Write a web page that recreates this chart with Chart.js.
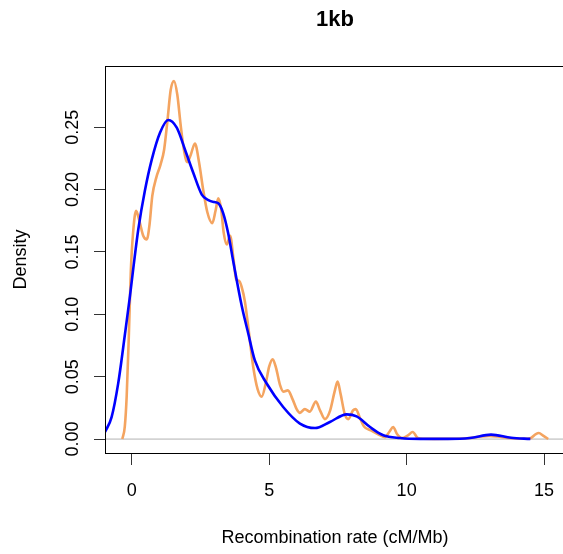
<!DOCTYPE html>
<html>
<head>
<meta charset="utf-8">
<script src="https://cdn.jsdelivr.net/npm/chart.js@4"></script>
<style>
  html, body { margin: 0; padding: 0; background: #fff; overflow: hidden; }
  #wrap { width: 563px; height: 554px; overflow: hidden; }
</style>
</head>
<body>
<div id="wrap"><canvas id="densityChart" width="570" height="554"></canvas></div>
<script>
// narrow-bandwidth density (orange)
const orangeX = [-0.34, -0.25, -0.18, -0.10, -0.03, 0.05, 0.16, 0.28, 0.42, 0.55, 0.65, 0.75, 0.90, 1.05, 1.18, 1.30, 1.42, 1.54, 1.66, 1.78, 1.90, 2.02, 2.15, 2.30, 2.45, 2.60, 2.75, 2.93, 3.05, 3.15, 3.25, 3.35, 3.46, 3.58, 3.70, 3.80, 3.90, 4.00, 4.12, 4.25, 4.42, 4.58, 4.73, 4.88, 5.00, 5.13, 5.25, 5.40, 5.52, 5.68, 5.85, 6.00, 6.12, 6.30, 6.48, 6.70, 6.85, 7.03, 7.22, 7.38, 7.49, 7.60, 7.75, 7.88, 8.05, 8.15, 8.30, 8.45, 8.70, 8.95, 9.21, 9.38, 9.51, 9.65, 9.82, 10.05, 10.22, 10.40, 10.60, 11.00, 11.80, 12.30, 12.70, 13.00, 13.30, 13.70, 14.20, 14.50, 14.70, 14.81, 14.95, 15.15];
const orangeY = [0, 0.010, 0.035, 0.085, 0.135, 0.165, 0.183, 0.175, 0.163, 0.160, 0.172, 0.195, 0.210, 0.220, 0.232, 0.255, 0.280, 0.287, 0.276, 0.252, 0.232, 0.222, 0.228, 0.237, 0.222, 0.200, 0.182, 0.173, 0.183, 0.193, 0.185, 0.165, 0.156, 0.163, 0.145, 0.128, 0.127, 0.122, 0.110, 0.088, 0.058, 0.040, 0.034, 0.045, 0.058, 0.064, 0.057, 0.043, 0.038, 0.039, 0.032, 0.024, 0.021, 0.024, 0.022, 0.030, 0.023, 0.016, 0.023, 0.038, 0.046, 0.036, 0.020, 0.016, 0.023, 0.024, 0.017, 0.010, 0.007, 0.004, 0.0015, 0.006, 0.0096, 0.004, 0.0008, 0.003, 0.0056, 0.001, 0.0002, 0.0001, 0.0002, 0.0008, 0.002, 0.0025, 0.002, 0.0008, 0.0002, 0.0007, 0.0040, 0.0048, 0.003, 0];

// wide-bandwidth density (blue)
const blueX = [-0.97, -0.73, -0.49, -0.24, -0.06, 0.06, 0.24, 0.48, 0.73, 1.03, 1.33, 1.64, 1.94, 2.24, 2.55, 2.79, 3.00, 3.15, 3.33, 3.51, 3.69, 4.00, 4.24, 4.48, 4.91, 5.51, 6.12, 6.67, 7.21, 7.82, 8.18, 8.67, 9.15, 9.76, 10.5, 11.5, 12.3, 13.07, 13.8, 14.5];
const blueY = [0.0056, 0.0176, 0.0446, 0.0848, 0.115, 0.137, 0.168, 0.199, 0.224, 0.2456, 0.2558, 0.2496, 0.232, 0.2135, 0.196, 0.1916, 0.190, 0.189, 0.181, 0.165, 0.143, 0.107, 0.0846, 0.063, 0.0445, 0.0257, 0.0124, 0.0088, 0.0137, 0.0198, 0.0182, 0.0096, 0.003, 0.0008, 0.0001, 0.0001, 0.0008, 0.0035, 0.001, 0.0001];

const xRange = [-0.97, 15.76];
const yRange = [-0.0112, 0.2991];
const xTicks = [0, 5, 10, 15];
const yTicks = [0, 0.05, 0.10, 0.15, 0.20, 0.25];

const FONT = "'Liberation Sans', Arial, Helvetica, sans-serif";

const toPoints = (xs, ys) => xs.map((x, i) => ({ x: x, y: ys[i] }));

const rDecor = {
    id: 'rDecor',
    afterDatasetsDraw(chart) {
        const { ctx, chartArea: a } = chart;
        ctx.save();
        ctx.strokeStyle = '#000';
        ctx.lineWidth = 1;
        ctx.strokeRect(Math.round(a.left) + 0.5, Math.round(a.top) + 0.5,
            Math.round(a.right - a.left), Math.round(a.bottom - a.top));
        ctx.restore();
    },
    afterDraw(chart) {
        const { ctx, chartArea: a } = chart;
        const ys = chart.scales.y;
        ctx.save();
        ctx.fillStyle = '#000';
        ctx.font = 'bold 22px ' + FONT;
        ctx.textAlign = 'center';
        ctx.textBaseline = 'alphabetic';
        ctx.fillText('1kb', (a.left + a.right) / 2, 26);

        ctx.font = '18px ' + FONT;
        yTicks.forEach(v => {
            const py = ys.getPixelForValue(v);
            ctx.save();
            ctx.translate(78, py);
            ctx.rotate(-Math.PI / 2);
            ctx.fillText(v.toFixed(2), 0, 0);
            ctx.restore();
        });
        ctx.restore();
    }
};

const ctx = document.getElementById('densityChart').getContext('2d');

new Chart(ctx, {
    type: 'line',
    data: {
        datasets: [
            {
                label: 'bw wide',
                data: toPoints(blueX, blueY),
                borderColor: '#0000ff',
                borderWidth: 2.6,
                pointRadius: 0,
                cubicInterpolationMode: 'monotone',
                fill: false
            },
            {
                label: 'bw narrow',
                data: toPoints(orangeX, orangeY),
                borderColor: '#f4a460',
                borderWidth: 2.6,
                pointRadius: 0,
                cubicInterpolationMode: 'monotone',
                fill: false
            },
            {
                label: 'zero',
                data: toPoints(xRange, [0, 0]),
                borderColor: '#d3d3d3',
                borderWidth: 1.8,
                pointRadius: 0,
                fill: false
            }
        ]
    },
    options: {
        responsive: false,
        animation: false,
        layout: { padding: { top: 66, right: 5, left: 0, bottom: 0 } },
        plugins: {
            legend: { display: false },
            tooltip: { enabled: false },
            title: { display: false }
        },
        scales: {
            x: {
                type: 'linear',
                min: xRange[0],
                max: xRange[1],
                afterBuildTicks: s => { s.ticks = xTicks.map(v => ({ value: v })); },
                afterFit: s => { s.height = 101; },
                grid: { drawOnChartArea: false, drawTicks: true, tickLength: 12, color: '#333' },
                border: { display: false },
                ticks: {
                    color: '#000',
                    padding: 15,
                    maxRotation: 0,
                    font: { family: FONT, size: 18 },
                    callback: v => String(v)
                },
                title: {
                    display: true,
                    text: 'Recombination rate (cM/Mb)',
                    color: '#000',
                    font: { family: FONT, size: 18 },
                    padding: { top: 0, bottom: 5 }
                }
            },
            y: {
                type: 'linear',
                min: yRange[0],
                max: yRange[1],
                afterBuildTicks: s => { s.ticks = yTicks.map(v => ({ value: v })); },
                afterFit: s => { s.width = 105; },
                grid: { drawOnChartArea: false, drawTicks: true, tickLength: 11, color: '#333' },
                border: { display: false },
                ticks: { display: false },
                title: {
                    display: true,
                    text: 'Density',
                    color: '#000',
                    font: { family: FONT, size: 18 },
                    padding: { top: 10, bottom: 0 }
                }
            }
        }
    },
    plugins: [rDecor]
});
</script>
</body>
</html>
